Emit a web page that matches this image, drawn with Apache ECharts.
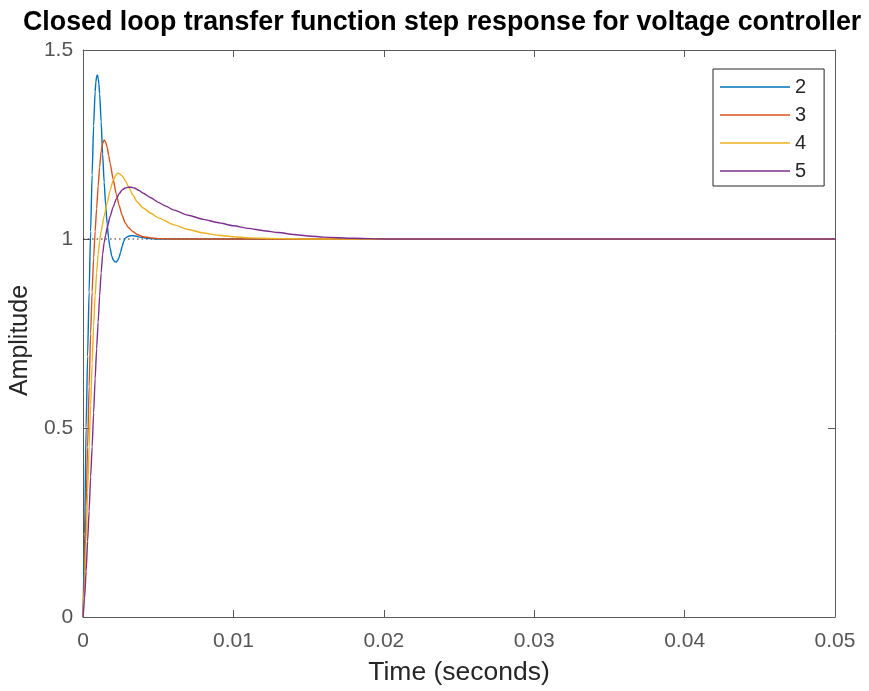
<!DOCTYPE html>
<html>
<head>
<meta charset="utf-8">
<script src="https://cdn.jsdelivr.net/npm/echarts@6/dist/echarts.min.js"></script>
<style>
  html, body { margin: 0; padding: 0; background: #fff; }
  #stepChart { width: 869px; height: 691px; }
</style>
</head>
<body>
<div id="stepChart"></div>
<script>
// values: time (s) and amplitude for each controller
var seriesNames = ['2', '3', '4', '5'];

var time2 = [0, 0.0001, 0.0002, 0.0003, 0.0004, 0.0005, 0.0006, 0.0007, 0.0008, 0.00085, 0.0009, 0.00095, 0.001, 0.00105, 0.0011, 0.0012, 0.0013, 0.0014, 0.0015, 0.0016, 0.0017, 0.0018, 0.0019, 0.002, 0.0021, 0.0022, 0.0023, 0.0024, 0.0025, 0.0026, 0.0027, 0.0028, 0.003, 0.0032, 0.0035, 0.0038, 0.0042, 0.0048, 0.006, 0.05];
var amp2 = [0, 0.22, 0.5, 0.69, 0.86, 1.02, 1.17, 1.3, 1.39, 1.415, 1.43, 1.434, 1.427, 1.41, 1.385, 1.31, 1.225, 1.15, 1.09, 1.04, 1.0, 0.975, 0.956, 0.945, 0.94, 0.939, 0.943, 0.952, 0.966, 0.981, 0.994, 1.002, 1.007, 1.009, 1.008, 1.005, 1.002, 1.0, 1.0, 1.0];

var time3 = [0, 0.0001, 0.0002, 0.0003, 0.0004, 0.0005, 0.0006, 0.0007, 0.0008, 0.0009, 0.001, 0.0011, 0.0012, 0.0013, 0.0014, 0.0015, 0.0016, 0.0017, 0.0018, 0.002, 0.0022, 0.0024, 0.0026, 0.0028, 0.003, 0.0033, 0.0036, 0.004, 0.0045, 0.005, 0.006, 0.05];
var amp3 = [0, 0.12, 0.29, 0.45, 0.61, 0.75, 0.86, 0.95, 1.02, 1.08, 1.14, 1.19, 1.23, 1.253, 1.262, 1.257, 1.242, 1.222, 1.2, 1.158, 1.12, 1.088, 1.062, 1.043, 1.031, 1.02, 1.012, 1.006, 1.003, 1.001, 1.0, 1.0];

var time4 = [0, 0.0001, 0.0002, 0.0003, 0.0004, 0.0005, 0.0006, 0.0007, 0.0008, 0.0009, 0.001, 0.0011, 0.0012, 0.0014, 0.0016, 0.0018, 0.002, 0.0022, 0.0023, 0.0024, 0.0026, 0.0028, 0.003, 0.0033, 0.0036, 0.004, 0.0045, 0.005, 0.006, 0.007, 0.008, 0.009, 0.01, 0.011, 0.013, 0.015, 0.05];
var amp4 = [0, 0.08, 0.2, 0.33, 0.45, 0.56, 0.67, 0.77, 0.85, 0.91, 0.96, 0.995, 1.02, 1.06, 1.095, 1.13, 1.155, 1.17, 1.174, 1.173, 1.167, 1.155, 1.14, 1.117, 1.098, 1.082, 1.068, 1.056, 1.038, 1.025, 1.016, 1.01, 1.006, 1.003, 1.001, 1.0, 1.0];

var time5 = [0, 0.0001, 0.0002, 0.0003, 0.0004, 0.0005, 0.0006, 0.0007, 0.0008, 0.0009, 0.001, 0.0011, 0.0012, 0.0013, 0.0014, 0.0015, 0.0016, 0.0018, 0.002, 0.0022, 0.0024, 0.0026, 0.0028, 0.003, 0.0032, 0.0034, 0.0037, 0.004, 0.0045, 0.005, 0.0055, 0.006, 0.007, 0.008, 0.009, 0.01, 0.011, 0.012, 0.013, 0.014, 0.015, 0.016, 0.018, 0.02, 0.05];
var amp5 = [0, 0.05, 0.12, 0.2, 0.28, 0.37, 0.45, 0.54, 0.63, 0.71, 0.78, 0.85, 0.91, 0.96, 0.99, 1.01, 1.03, 1.06, 1.085, 1.105, 1.12, 1.13, 1.135, 1.137, 1.137, 1.135, 1.129, 1.121, 1.109, 1.097, 1.087, 1.077, 1.063, 1.052, 1.043, 1.035, 1.028, 1.022, 1.017, 1.012, 1.008, 1.005, 1.002, 1.0, 1.0];

var steadyTime = [0, 0.05];
var steadyValue = [1, 1];

var xTicks = [0, 0.01, 0.02, 0.03, 0.04, 0.05];
var yTicks = [0, 0.5, 1, 1.5];

var colors = ['#0072BD', '#D95319', '#EDB120', '#7E2F8E'];

function pairs(ts, vs) {
  return ts.map(function (t, i) { return [t, vs[i]]; });
}

var times = [time2, time3, time4, time5];
var amps = [amp2, amp3, amp4, amp5];

var axisColor = '#5a5a5a';
var labelColor = '#555';
var fontFamily = '"Liberation Sans", Arial, Helvetica, sans-serif';

var chart = echarts.init(document.getElementById('stepChart'));

var series = [{
  name: 'steady',
  type: 'line',
  data: pairs(steadyTime, steadyValue),
  symbol: 'none',
  silent: true,
  z: 1,
  lineStyle: { color: '#222', width: 1, type: [1.5, 3] },
}];
seriesNames.forEach(function (n, i) {
  series.push({
    name: n,
    type: 'line',
    data: pairs(times[i], amps[i]),
    symbol: 'none',
    showSymbol: false,
    smooth: 0.2,
    smoothMonotone: 'x',
    z: 2 + i,
    lineStyle: { color: colors[i], width: 1.4 },
    itemStyle: { color: colors[i] },
  });
});

function sideAxis(extra) {
  var base = {
    type: 'value',
    axisLine: { show: true, onZero: false, lineStyle: { color: axisColor } },
    axisTick: { show: true, inside: true, length: 7, lineStyle: { color: axisColor } },
    splitLine: { show: false },
  };
  return Object.assign(base, extra);
}

var option = {
  animation: false,
  backgroundColor: '#fff',
  textStyle: { fontFamily: fontFamily },
  title: {
    text: 'Closed loop transfer function step response for voltage controller',
    left: 18,
    top: 4,
    textStyle: { fontSize: 26.8, fontWeight: 'bold', color: '#000', fontFamily: fontFamily },
  },
  grid: { left: 83, right: 34, top: 50, bottom: 74 },
  legend: {
    data: seriesNames,
    orient: 'vertical',
    left: 713,
    top: 69,
    icon: 'path://M0,0 L70,0 L70,1.4 L0,1.4 Z',
    itemWidth: 70,
    itemHeight: 14,
    itemGap: 8,
    padding: [8, 18, 5, 7],
    borderColor: '#262626',
    borderWidth: 1,
    backgroundColor: '#fff',
    textStyle: { fontSize: 20, lineHeight: 20, color: '#262626', fontFamily: fontFamily },
  },
  xAxis: [sideAxis({
    min: xTicks[0],
    max: xTicks[xTicks.length - 1],
    interval: 0.01,
    name: 'Time (seconds)',
    nameLocation: 'middle',
    nameGap: 42,
    nameTextStyle: { fontSize: 26.5, color: '#262626' },
    axisLabel: { fontSize: 21, color: labelColor, margin: 14 },
  }), sideAxis({
    position: 'top',
    min: xTicks[0],
    max: xTicks[xTicks.length - 1],
    interval: 0.01,
    axisLabel: { show: false },
  })],
  yAxis: [sideAxis({
    min: yTicks[0],
    max: yTicks[yTicks.length - 1],
    interval: 0.5,
    name: 'Amplitude',
    nameLocation: 'middle',
    nameGap: 45,
    nameTextStyle: { fontSize: 25, color: '#262626', padding: [0, 14, 0, 0] },
    axisLabel: { fontSize: 21, color: labelColor, margin: 10 },
  }), sideAxis({
    position: 'right',
    min: yTicks[0],
    max: yTicks[yTicks.length - 1],
    interval: 0.5,
    axisLabel: { show: false },
  })],
  series: series,
};

chart.setOption(option);
</script>
</body>
</html>
